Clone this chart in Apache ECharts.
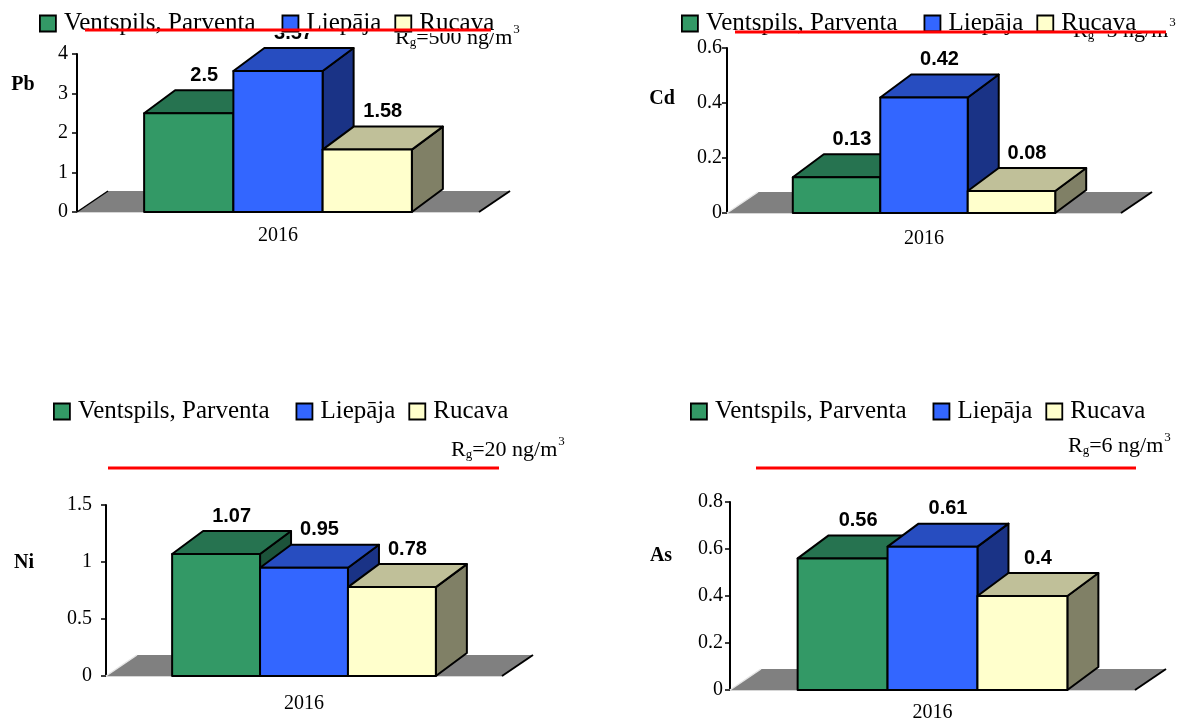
<!DOCTYPE html>
<html>
<head>
<meta charset="utf-8">
<script src="https://cdn.jsdelivr.net/npm/echarts@6/dist/echarts.min.js"></script>
<style>
  html, body { margin: 0; padding: 0; background: #fff; }
  #chart { width: 1181px; height: 723px; }
</style>
</head>
<body>
<div id="chart"></div>
<script>
// Heavy-metal concentrations in air (ng/m3), 2016
const YEARS = ['2016'];
const SITES = ['Ventspils, Parventa', 'Liepāja', 'Rucava'];
const PB = [2.5, 3.57, 1.58];
const CD = [0.13, 0.42, 0.08];
const NI = [1.07, 0.95, 0.78];
const AS = [0.56, 0.61, 0.4];
const METALS = ['Pb', 'Cd', 'Ni', 'As'];
const LIMITS = ['500', '5', '20', '6'];
const Y_MAX = [4, 0.6, 1.5, 0.8];
const Y_STEP = [1, 0.2, 0.5, 0.2];

const SERIES_VALUES = [PB, CD, NI, AS];

// Face colours for the three pseudo-3D boxes
const FACES = [
  { front: '#339966', top: '#267350', side: '#1c533a' },
  { front: '#3366ff', top: '#274dc0', side: '#1a3386' },
  { front: '#ffffcc', top: '#c0c099', side: '#808066' }
];
const FLOOR = '#808080';
const SERIF = '"Liberation Serif", "Times New Roman", serif';
const SANS = '"Liberation Sans", Arial, sans-serif';

// Box depth in pixels
const DX = 31, DY = -23;
const FLOOR_DY = -21;
const BAR_FRAC = 0.222;

// Layout of the four panels
const PANELS = [
  { grid: { left: 77, top: 54, width: 402, height: 158 }, yMargin: 9, xMargin: 14,
    name: [23, 85], legend: [39, 11], mask: [35, 0, 460, 33],
    limit: [395, 38], line: [85, 491, 30], floorLeft: '#000' },
  { grid: { left: 727, top: 48, width: 394, height: 165 }, yMargin: 5, xMargin: 16,
    name: [662, 99], legend: [681, 11], mask: [677, 0, 490, 33],
    limit: [1073, 31], line: [735, 1166, 32], floorLeft: '#e6e6e6' },
  { grid: { left: 106, top: 505, width: 396, height: 171 }, yMargin: 14, xMargin: 18,
    name: [24, 563], legend: [53, 399], mask: null,
    limit: [451, 450], line: [108, 499, 468], floorLeft: '#e6e6e6' },
  { grid: { left: 730, top: 502, width: 405, height: 191 }, yMargin: 7, xMargin: 13,
    name: [661, 556], legend: [690, 399], mask: null,
    limit: [1068, 446], line: [756, 1136, 468], floorLeft: '#e6e6e6' }
];

const grids = [], xAxes = [], yAxes = [], series = [], legends = [], graphics = [];

PANELS.forEach((pn, p) => {
  grids.push(Object.assign({ containLabel: false }, pn.grid));

  xAxes.push({
    type: 'category', gridIndex: p, data: YEARS, boundaryGap: true,
    axisLine: { show: true, lineStyle: { color: '#d6d6d6', width: 2 } },
    axisTick: { show: false },
    axisLabel: { fontFamily: SERIF, fontSize: 20, color: '#000', margin: pn.xMargin },
    splitLine: { show: false }
  });

  yAxes.push({
    type: 'value', gridIndex: p, min: 0, max: Y_MAX[p], interval: Y_STEP[p],
    axisLine: { show: true, lineStyle: { color: '#000', width: 2 } },
    axisTick: { show: true, inside: false, length: 5, lineStyle: { color: '#000', width: 1.5 } },
    axisLabel: { fontFamily: SERIF, fontSize: 20, color: '#000', margin: pn.yMargin },
    splitLine: { show: false }
  });

  // Grey floor under the boxes
  series.push({
    type: 'custom', xAxisIndex: p, yAxisIndex: p, z: 2, silent: true, clip: false,
    data: [[0, 0]],
    renderItem: (params, api) => {
      const base = api.coord([0, 0]);
      const band = api.size([1, 0])[0];
      const xl = base[0] - band / 2, xr = base[0] + band / 2, y0 = base[1];
      return {
        type: 'group',
        children: [
          { type: 'polygon', z2: 0,
            shape: { points: [[xl, y0], [xr, y0], [xr + DX, y0 + FLOOR_DY], [xl + DX, y0 + FLOOR_DY]] },
            style: { fill: FLOOR, stroke: null } },
          { type: 'line', z2: 1,
            shape: { x1: xl, y1: y0, x2: xl + DX, y2: y0 + FLOOR_DY },
            style: { stroke: pn.floorLeft, lineWidth: 1.5 } },
          { type: 'line', z2: 1,
            shape: { x1: xr, y1: y0, x2: xr + DX, y2: y0 + FLOOR_DY },
            style: { stroke: '#000', lineWidth: 2 } }
        ]
      };
    }
  });

  // One box per site
  SITES.forEach((site, j) => {
    const face = FACES[j];
    series.push({
      type: 'custom', name: site, xAxisIndex: p, yAxisIndex: p, z: 2, clip: false,
      itemStyle: { color: face.front, borderColor: '#000', borderWidth: 1.5 },
      data: [[0, SERIES_VALUES[p][j]]],
      renderItem: (params, api) => {
        const v = api.value(1);
        const base = api.coord([0, 0]);
        const topPt = api.coord([0, v]);
        const band = api.size([1, 0])[0];
        const bw = band * BAR_FRAC;
        const x0 = base[0] - 1.5 * bw + j * bw, x1 = x0 + bw;
        const y0 = base[1], y1 = topPt[1];
        const line = { stroke: '#000', lineWidth: 2, lineJoin: 'round' };
        const zb = 10 + j * 10;
        return {
          type: 'group',
          children: [
            { type: 'polygon', z2: zb,
              shape: { points: [[x1, y1], [x1 + DX, y1 + DY], [x1 + DX, y0 + DY], [x1, y0]] },
              style: Object.assign({ fill: face.side }, line) },
            { type: 'polygon', z2: zb + 1,
              shape: { points: [[x0, y1], [x1, y1], [x1 + DX, y1 + DY], [x0 + DX, y1 + DY]] },
              style: Object.assign({ fill: face.top }, line) },
            { type: 'rect', z2: zb + 2,
              shape: { x: x0, y: y1, width: bw, height: y0 - y1 },
              style: Object.assign({ fill: face.front }, line) },
            { type: 'text', z2: zb + 3,
              style: { text: String(v), x: (x0 + x1) / 2 + DX / 2, y: y1 - 38,
                align: 'center', verticalAlign: 'middle',
                fontFamily: SANS, fontWeight: 'bold', fontSize: 20, fill: '#000' } }
          ]
        };
      }
    });
  });

  legends.push({
    data: SITES, left: pn.legend[0], top: pn.legend[1], padding: 0,
    orient: 'horizontal', itemGap: 13,
    itemWidth: 16, itemHeight: 16, icon: 'rect', selectedMode: false, z: 5,
    itemStyle: { borderColor: '#000', borderWidth: 1.8 },
    formatter: name => (name === SITES[0] ? '{w|' + name + '}' : '{t|' + name + '}'),
    textStyle: {
      fontFamily: SERIF, fontSize: 25, color: '#000', lineHeight: 22,
      rich: {
        t: { fontFamily: SERIF, fontSize: 25, color: '#000', lineHeight: 22, padding: [0, 0, 0, 3] },
        w: { fontFamily: SERIF, fontSize: 25, color: '#000', lineHeight: 22, padding: [0, 13, 0, 3] }
      }
    }
  });

  // White band behind the legend of the upper panels
  if (pn.mask) {
    graphics.push({
      type: 'rect', z: 4, silent: true,
      shape: { x: pn.mask[0], y: pn.mask[1], width: pn.mask[2], height: pn.mask[3] },
      style: { fill: '#fff', stroke: null }
    });
  }

  // Metal symbol beside the value axis
  graphics.push({
    type: 'text', x: pn.name[0], y: pn.name[1], z: 6,
    style: { text: METALS[p], align: 'center', verticalAlign: 'middle',
      fontFamily: SERIF, fontWeight: 'bold', fontSize: 20, fill: '#000' }
  });

  // Limit value note
  graphics.push({
    type: 'text', x: pn.limit[0], y: pn.limit[1], z: 3,
    style: {
      text: '{n|R}{s|g}{n|=' + LIMITS[p] + ' ng/m}{u|3}',
      align: 'left', verticalAlign: 'middle', fill: '#000',
      rich: {
        n: { fontFamily: SERIF, fontSize: 22, fill: '#000' },
        s: { fontFamily: SERIF, fontSize: 13, fill: '#000', padding: [10, 0, 0, 0] },
        u: { fontFamily: SERIF, fontSize: 13, fill: '#000', padding: [0, 0, 16, 1] }
      }
    }
  });

  // Red limit line
  graphics.push({
    type: 'line', z: 10,
    shape: { x1: pn.line[0], y1: pn.line[2], x2: pn.line[1], y2: pn.line[2] },
    style: { stroke: '#ff0000', lineWidth: 3 }
  });
});

const chart = echarts.init(document.getElementById('chart'), null, { renderer: 'canvas' });
chart.setOption({
  backgroundColor: '#fff',
  animation: false,
  grid: grids,
  xAxis: xAxes,
  yAxis: yAxes,
  legend: legends,
  series: series,
  graphic: graphics
});
</script>
</body>
</html>
